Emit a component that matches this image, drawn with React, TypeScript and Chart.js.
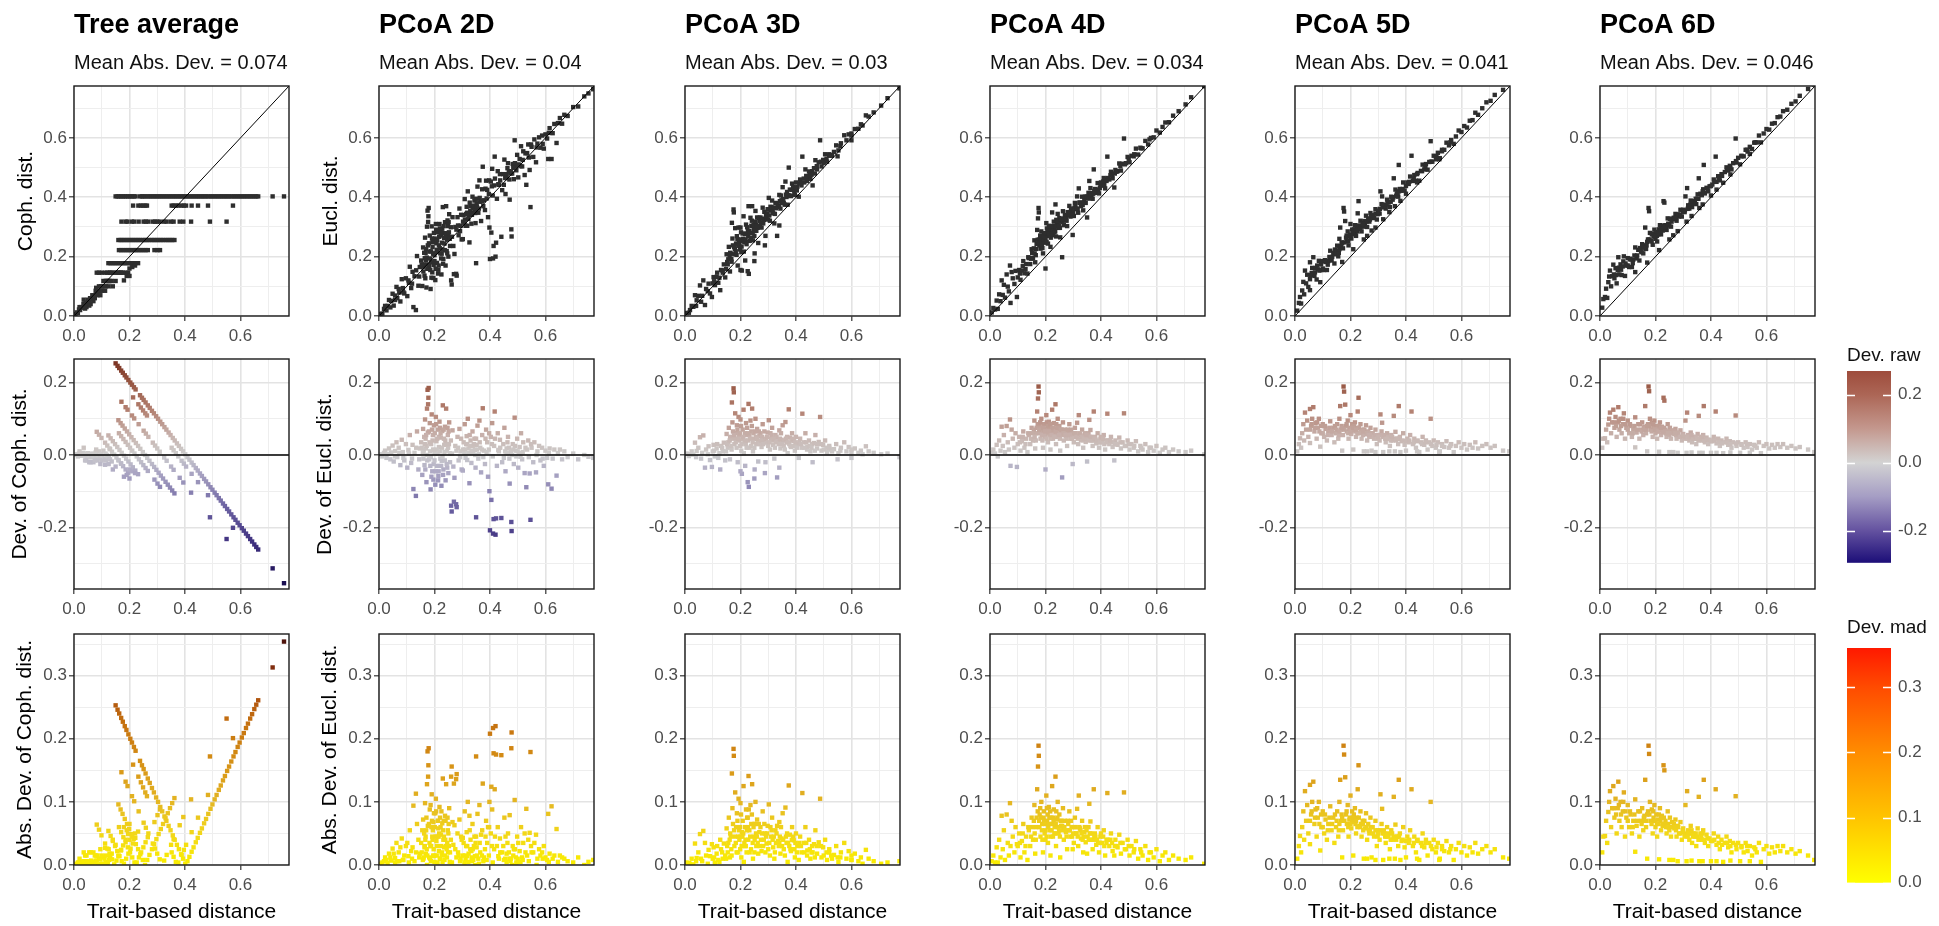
import React, { useEffect, useRef } from "react";
import { Chart, registerables } from "chart.js";
Chart.register(...registerables);

const FONT = '"Liberation Sans", Arial, Helvetica, sans-serif';

const panelTitles = ["Tree average", "PCoA 2D", "PCoA 3D", "PCoA 4D", "PCoA 5D", "PCoA 6D"];
const meanAbsDev = ["0.074", "0.04", "0.03", "0.034", "0.041", "0.046"];
const yTitlesCoph = ["Coph. dist.", "Dev. of Coph. dist.", "Abs. Dev. of Coph. dist."];
const yTitlesEucl = ["Eucl. dist.", "Dev. of Eucl. dist.", "Abs. Dev. of Eucl. dist."];
const xTitle = "Trait-based distance";

const xLimits = [0, 0.775];
const rowYLimits = [[0, 0.775], [-0.37, 0.265], [0, 0.366]];
const xMajorTicks = [0, 0.2, 0.4, 0.6];
const xMinorTicks = [0.1, 0.3, 0.5, 0.7];
const rowMajorTicks = [[0, 0.2, 0.4, 0.6], [-0.2, 0, 0.2], [0, 0.1, 0.2, 0.3]];
const rowMinorTicks = [[0.1, 0.3, 0.5, 0.7], [-0.3, -0.1, 0.1], [0.05, 0.15, 0.25, 0.35]];
const rawLegendLimits = [-0.295, 0.27];
const rawLegendTicks = [-0.2, 0, 0.2];
const madLegendLimits = [0, 0.36];
const madLegendTicks = [0, 0.1, 0.2, 0.3];

// ---- Tree average: cophenetic levels (y) and trait distances (x) on each level
const treeLevelY = [0.403, 0.372, 0.318, 0.256, 0.222, 0.178, 0.146];
const treeLevelX = [
  [0.150, 0.157, 0.163, 0.170, 0.176, 0.183, 0.189, 0.196, 0.203, 0.209, 0.216, 0.222, 0.238, 0.245, 0.251, 0.258, 0.266, 0.273, 0.281, 0.288, 0.296, 0.303, 0.311, 0.318, 0.326, 0.333, 0.341, 0.348, 0.356, 0.363, 0.371, 0.378, 0.386, 0.393, 0.401, 0.409, 0.416, 0.424, 0.431, 0.439, 0.446, 0.454, 0.461, 0.469, 0.476, 0.484, 0.492, 0.499, 0.507, 0.514, 0.522, 0.529, 0.537, 0.544, 0.552, 0.559, 0.567, 0.575, 0.582, 0.590, 0.597, 0.605, 0.612, 0.620, 0.627, 0.635, 0.642, 0.650, 0.657, 0.664, 0.716, 0.757],
  [0.213, 0.232, 0.241, 0.249, 0.257, 0.263, 0.352, 0.359, 0.367, 0.376, 0.388, 0.396, 0.404, 0.424, 0.447, 0.483, 0.573],
  [0.171, 0.186, 0.193, 0.209, 0.217, 0.233, 0.251, 0.259, 0.268, 0.284, 0.292, 0.300, 0.309, 0.325, 0.334, 0.350, 0.359, 0.381, 0.394, 0.422, 0.490, 0.550],
  [0.160, 0.168, 0.175, 0.183, 0.191, 0.199, 0.207, 0.215, 0.223, 0.231, 0.239, 0.248, 0.256, 0.264, 0.272, 0.281, 0.289, 0.297, 0.305, 0.313, 0.321, 0.330, 0.338, 0.346, 0.354, 0.362],
  [0.162, 0.170, 0.178, 0.186, 0.194, 0.202, 0.210, 0.218, 0.226, 0.234, 0.242, 0.250, 0.258, 0.266, 0.290, 0.301, 0.310],
  [0.124, 0.132, 0.140, 0.148, 0.156, 0.164, 0.172, 0.180, 0.188, 0.196, 0.204, 0.212, 0.221, 0.231],
  [0.082, 0.090, 0.099, 0.112, 0.120, 0.128, 0.137, 0.145, 0.153, 0.161, 0.169, 0.177, 0.186, 0.195],
];
// [trait distance, cophenetic distance] for the small-distance pairs
const treeLowPairs = [
  [0.005, 0.006], [0.01, 0.012], [0.014, 0.01], [0.018, 0.022], [0.022, 0.02], [0.026, 0.03], [0.03, 0.028], [0.034, 0.04], [0.038, 0.036], [0.042, 0.045], [0.046, 0.04], [0.05, 0.055], [0.054, 0.05], [0.058, 0.06], [0.062, 0.055], [0.066, 0.07], [0.07, 0.065], [0.074, 0.07], [0.078, 0.085], [0.082, 0.075], [0.086, 0.085], [0.09, 0.1], [0.094, 0.085], [0.098, 0.1], [0.102, 0.1], [0.106, 0.118], [0.11, 0.1], [0.114, 0.118], [0.118, 0.118], [0.122, 0.118], [0.126, 0.118], [0.13, 0.118], [0.136, 0.118], [0.06, 0.04], [0.045, 0.03], [0.07, 0.05], [0.08, 0.095], [0.02, 0.03], [0.035, 0.055], [0.1, 0.085], [0.112, 0.085], [0.115, 0.1], [0.125, 0.1], [0.14, 0.1], [0.085, 0.07], [0.13, 0.146], [0.04, 0.025], [0.055, 0.035], [0.075, 0.06], [0.095, 0.07], [0.15, 0.118], [0.16, 0.146], [0.17, 0.146], [0.19, 0.135], [0.2, 0.16], [0.21, 0.165], [0.18, 0.12], [0.2, 0.135], [0.22, 0.17],
];

// ---- PCoA panels: [trait distance, deviation of Euclidean distance]
const pcoa2D = [
  [0.005, 0.002], [0.012, -0.004], [0.018, 0.006], [0.022, 0.012], [0.027, -0.008], [0.031, 0.003], [0.036, 0.018], [0.041, -0.012], [0.044, 0.007], [0.049, 0.026], [0.053, -0.018], [0.058, 0.011], [0.063, 0.035], [0.066, -0.006], [0.071, 0.02], [0.077, -0.028], [0.082, 0.042], [0.086, 0.008], [0.091, -0.015], [0.097, 0.03], [0.102, -0.035], [0.106, 0.014], [0.111, 0.055], [0.116, -0.022], [0.121, 0.028], [0.124, -0.094], [0.133, -0.113], [0.128, 0.006], [0.137, 0.065], [0.142, -0.04], [0.147, 0.018],
  [0.152, 0.035], [0.156, -0.055], [0.159, 0.072], [0.161, 0.012], [0.164, -0.028], [0.166, 0.098], [0.168, 0.045], [0.171, -0.075], [0.173, 0.128], [0.175, 0.18], [0.177, 0.14], [0.178, 0.158], [0.179, 0.185], [0.176, 0.062], [0.181, -0.012], [0.183, 0.088], [0.186, -0.095], [0.188, 0.03], [0.19, 0.112], [0.192, -0.045], [0.194, 0.055], [0.196, -0.068], [0.198, 0.082], [0.2, 0.005], [0.203, -0.082], [0.205, 0.105], [0.207, 0.038], [0.209, -0.03], [0.212, 0.07], [0.214, -0.058], [0.216, 0.022], [0.218, 0.092], [0.221, -0.01], [0.223, 0.048], [0.225, -0.085], [0.228, 0.066], [0.23, 0.137], [0.232, -0.04], [0.235, 0.028], [0.238, 0.078], [0.24, -0.07], [0.242, 0.128], [0.245, 0.012], [0.248, 0.055], [0.25, -0.05], [0.253, 0.09], [0.256, -0.02], [0.259, 0.04], [0.26, -0.14], [0.262, -0.156],
  [0.265, 0.068], [0.268, -0.032], [0.27, -0.129], [0.272, -0.063], [0.275, 0.025], [0.278, -0.136], [0.28, -0.144], [0.283, 0.05], [0.287, -0.015], [0.29, 0.072], [0.294, 0.01], [0.298, -0.04], [0.302, -0.043], [0.305, 0.035], [0.309, 0.085], [0.312, -0.008], [0.316, 0.052], [0.32, 0.1], [0.323, 0.018], [0.326, -0.078], [0.33, 0.04], [0.333, -0.022], [0.337, 0.065], [0.34, 0.008], [0.344, 0.045], [0.348, -0.035], [0.35, -0.172], [0.352, 0.028], [0.355, 0.081], [0.358, -0.01], [0.362, 0.095], [0.365, 0.02], [0.368, -0.048], [0.372, 0.055], [0.374, 0.129], [0.378, 0.012], [0.382, -0.025], [0.386, 0.07], [0.39, 0.035], [0.393, -0.06], [0.396, 0.015], [0.398, -0.1], [0.4, -0.208],
  [0.403, 0.05], [0.405, -0.124], [0.408, 0.088], [0.411, -0.217], [0.413, -0.177], [0.415, 0.025], [0.417, 0.12], [0.42, -0.22], [0.422, -0.175], [0.425, -0.03], [0.428, 0.06], [0.432, 0.01], [0.436, 0.042], [0.441, -0.174], [0.444, -0.02], [0.448, 0.03], [0.452, 0.075], [0.456, -0.045], [0.46, 0.018], [0.465, 0.05], [0.47, -0.01], [0.471, -0.079], [0.477, -0.185], [0.478, -0.21], [0.482, 0.03], [0.486, -0.025], [0.489, 0.103], [0.493, 0.012], [0.498, 0.045], [0.502, -0.035], [0.507, 0.022], [0.512, 0.06], [0.516, -0.012], [0.52, 0.035], [0.525, -0.05], [0.531, -0.089], [0.534, 0.015], [0.538, 0.04], [0.543, -0.051], [0.546, -0.179], [0.55, 0.02],
  [0.556, -0.02], [0.56, 0.035], [0.566, -0.048], [0.571, 0.01], [0.577, 0.025], [0.582, -0.015], [0.588, 0.02], [0.594, -0.03], [0.6, 0.012], [0.606, -0.008], [0.61, -0.081], [0.615, 0.018], [0.622, -0.093], [0.626, -0.01], [0.632, 0.015], [0.64, -0.057], [0.645, 0.005], [0.652, 0.015], [0.66, -0.012], [0.668, 0.01], [0.68, -0.006], [0.7, 0.004], [0.718, -0.012], [0.74, 0.0], [0.755, -0.005], [0.772, -0.008],
  [0.058, -0.004], [0.073, 0.006], [0.088, -0.008], [0.108, 0.004], [0.119, -0.01], [0.134, 0.02], [0.145, -0.012], [0.158, 0.008], [0.169, 0.018], [0.187, -0.006], [0.197, 0.014], [0.211, 0.004], [0.226, -0.016], [0.236, 0.008], [0.249, 0.02], [0.263, 0.004], [0.279, 0.012], [0.292, -0.006], [0.308, 0.004], [0.318, -0.014], [0.335, 0.006], [0.346, 0.014], [0.36, 0.002], [0.376, -0.006], [0.388, 0.008], [0.41, -0.004], [0.43, 0.014], [0.45, -0.008], [0.474, 0.006], [0.495, -0.004], [0.518, 0.008], [0.54, -0.006],
  [0.163, 0.05], [0.167, -0.04], [0.172, 0.025], [0.174, -0.015], [0.18, 0.065], [0.184, 0.01], [0.189, -0.06], [0.193, 0.04], [0.197, -0.025], [0.201, 0.06], [0.204, -0.045], [0.208, 0.015], [0.213, -0.07], [0.217, 0.05], [0.22, 0.075], [0.224, -0.03], [0.227, 0.02], [0.231, -0.055], [0.234, 0.045], [0.237, -0.015], [0.241, 0.03], [0.246, -0.035], [0.251, 0.065], [0.255, 0.005], [0.285, 0.02], [0.296, 0.045], [0.303, 0.015], [0.314, 0.03], [0.327, 0.055], [0.338, 0.025], [0.35, 0.045], [0.363, 0.035], [0.371, 0.015], [0.384, 0.045], [0.397, 0.06], [0.407, 0.03], [0.418, 0.045], [0.437, 0.02], [0.455, 0.01], [0.463, 0.035], [0.48, 0.0], [0.49, 0.025], [0.505, 0.005], [0.528, 0.02], [0.548, 0.03], [0.568, 0.0], [0.59, -0.01], [0.612, 0.005],
  [0.154, 0.02], [0.16, -0.01], [0.165, 0.03], [0.17, 0.055], [0.173, 0.0], [0.182, 0.035], [0.185, -0.03], [0.191, 0.07], [0.195, 0.015], [0.2, -0.015], [0.206, 0.085], [0.21, 0.045], [0.215, -0.045], [0.219, 0.01], [0.222, 0.06], [0.229, -0.005], [0.233, 0.07], [0.239, 0.04], [0.244, -0.025], [0.247, 0.075], [0.252, 0.03], [0.31, 0.015], [0.318, 0.03], [0.322, 0.005], [0.329, 0.025], [0.334, 0.012], [0.342, 0.03], [0.347, 0.0], [0.353, 0.015], [0.46, 0.005], [0.468, 0.02], [0.475, 0.01], [0.484, 0.015], [0.5, 0.01], [0.51, -0.005],
];

const pcoa3D = [
  [0.006, 0.004], [0.014, -0.003], [0.018, 0.002], [0.024, 0.01], [0.03, 0.001], [0.036, 0.034], [0.04, -0.006], [0.042, 0.011], [0.048, 0.02], [0.054, 0.049], [0.058, -0.01], [0.062, 0.006], [0.066, 0.054], [0.072, -0.035], [0.076, 0.015], [0.082, 0.002], [0.085, 0.024], [0.09, -0.014], [0.097, -0.033], [0.1, 0.01], [0.103, 0.028], [0.108, -0.004], [0.114, 0.018], [0.12, -0.008], [0.127, -0.04], [0.13, 0.025], [0.136, 0.01], [0.14, 0.034], [0.145, -0.015], [0.15, 0.058], [0.154, 0.02], [0.158, 0.075], [0.162, -0.012], [0.165, 0.045], [0.169, 0.145], [0.171, 0.09], [0.175, 0.184], [0.176, 0.173], [0.178, 0.03], [0.181, 0.115], [0.184, 0.06], [0.187, 0.082], [0.19, -0.02], [0.193, 0.105], [0.196, 0.04], [0.2, 0.098], [0.203, 0.012], [0.205, -0.052], [0.208, 0.07], [0.211, 0.125], [0.214, 0.035], [0.217, -0.03], [0.22, 0.088], [0.223, 0.055], [0.226, -0.075], [0.229, 0.141], [0.23, -0.088], [0.233, 0.02], [0.236, 0.095], [0.239, 0.065], [0.242, 0.128], [0.245, 0.01], [0.248, 0.045], [0.251, -0.04], [0.254, 0.1], [0.257, 0.03], [0.26, 0.072], [0.264, -0.018], [0.268, 0.052], [0.272, 0.06], [0.276, 0.022], [0.28, 0.085], [0.284, 0.04], [0.288, -0.05], [0.29, -0.02], [0.294, 0.034], [0.298, 0.062], [0.302, 0.096], [0.306, 0.015], [0.31, 0.045], [0.314, 0.075], [0.318, 0.028], [0.322, -0.01], [0.326, 0.055], [0.332, -0.062], [0.335, 0.038], [0.34, 0.068], [0.344, 0.018], [0.348, 0.042], [0.352, 0.082], [0.356, 0.025], [0.362, 0.091], [0.366, 0.035], [0.37, 0.005], [0.374, 0.126], [0.378, 0.048], [0.382, 0.022], [0.386, 0.06], [0.392, 0.039], [0.396, 0.012], [0.4, 0.05], [0.405, 0.03], [0.41, -0.008], [0.415, 0.045], [0.42, 0.02], [0.423, 0.114], [0.428, 0.035], [0.434, 0.06], [0.44, 0.015], [0.441, 0.023], [0.447, 0.04], [0.452, 0.01], [0.458, 0.03], [0.465, 0.033], [0.47, 0.055], [0.476, 0.018], [0.482, 0.036], [0.487, 0.105], [0.492, 0.012], [0.498, 0.028], [0.505, 0.04], [0.512, 0.008], [0.52, 0.025], [0.527, 0.015], [0.537, 0.016], [0.545, 0.03], [0.553, 0.005], [0.562, 0.02], [0.574, 0.035], [0.582, 0.01], [0.59, 0.022], [0.6, 0.008], [0.612, 0.018], [0.625, 0.006], [0.634, 0.012], [0.64, 0.002], [0.652, 0.024], [0.662, 0.01], [0.68, 0.006], [0.707, 0.002], [0.73, 0.004], [0.773, -0.006],
  [0.2, -0.045], [0.25, -0.065], [0.34, -0.035], [0.46, -0.02], [0.55, -0.012], [0.6, -0.008],
  [0.105, 0.012], [0.116, 0.03], [0.124, 0.005], [0.134, 0.02], [0.148, 0.01], [0.156, 0.035], [0.163, 0.05], [0.168, 0.015], [0.173, 0.065], [0.18, 0.045], [0.186, 0.02], [0.189, 0.07], [0.195, 0.055], [0.199, 0.025], [0.202, 0.08], [0.207, 0.045], [0.212, 0.005], [0.216, 0.06], [0.219, 0.03], [0.224, 0.075], [0.228, 0.04], [0.232, 0.055], [0.238, 0.025], [0.241, 0.08], [0.247, 0.06], [0.25, 0.02], [0.256, 0.05], [0.262, 0.035], [0.266, 0.065], [0.27, 0.03], [0.278, 0.05], [0.286, 0.065], [0.292, 0.045], [0.3, 0.025], [0.308, 0.06], [0.316, 0.04], [0.324, 0.02], [0.33, 0.05], [0.338, 0.03], [0.346, 0.06], [0.354, 0.04], [0.36, 0.015], [0.368, 0.05], [0.376, 0.03], [0.385, 0.04], [0.394, 0.025], [0.403, 0.02], [0.412, 0.035], [0.43, 0.02], [0.45, 0.025], [0.468, 0.012], [0.49, 0.03], [0.51, 0.02], [0.53, 0.01], [0.56, 0.012], [0.6, 0.015],
  [0.152, 0.03], [0.161, 0.04], [0.167, 0.025], [0.177, 0.055], [0.183, 0.035], [0.192, 0.045], [0.198, 0.06], [0.204, 0.03], [0.21, 0.05], [0.218, 0.04], [0.222, 0.02], [0.227, 0.06], [0.235, 0.045], [0.244, 0.035], [0.253, 0.065], [0.259, 0.045], [0.274, 0.04], [0.282, 0.03], [0.296, 0.05], [0.304, 0.035], [0.312, 0.055], [0.32, 0.045], [0.328, 0.035], [0.342, 0.045], [0.35, 0.03], [0.364, 0.045], [0.372, 0.035], [0.38, 0.025], [0.39, 0.045], [0.398, 0.035], [0.418, 0.03], [0.437, 0.035], [0.456, 0.02], [0.475, 0.03], [0.5, 0.015], [0.52, 0.02],
];

const pcoa4D = [
  [0.006, 0.006], [0.012, 0.015], [0.018, 0.004], [0.024, 0.028], [0.028, -0.004], [0.033, 0.04], [0.038, 0.012], [0.042, 0.078], [0.046, 0.025], [0.05, 0.055], [0.054, 0.008], [0.06, 0.08], [0.064, 0.035], [0.068, 0.015], [0.072, 0.098], [0.074, -0.03], [0.078, 0.07], [0.082, 0.045], [0.088, 0.02], [0.092, 0.06], [0.097, -0.033], [0.1, 0.03], [0.105, 0.05], [0.11, 0.012], [0.115, 0.038], [0.12, 0.065], [0.124, 0.02], [0.13, 0.045], [0.135, 0.008], [0.14, 0.055], [0.145, 0.03], [0.15, 0.075], [0.155, 0.04], [0.16, 0.095], [0.163, 0.018], [0.166, 0.06], [0.17, 0.12], [0.173, 0.156], [0.175, 0.189], [0.176, 0.173], [0.179, 0.08], [0.182, 0.045], [0.185, 0.1], [0.188, 0.065], [0.191, 0.02], [0.194, 0.085], [0.197, 0.05], [0.2, -0.04], [0.203, 0.11], [0.206, 0.07], [0.209, 0.035], [0.212, 0.092], [0.215, 0.055], [0.218, 0.015], [0.221, 0.075], [0.224, 0.125], [0.227, 0.045], [0.23, 0.088], [0.233, 0.06], [0.236, 0.14], [0.238, 0.03], [0.241, 0.072], [0.244, 0.1], [0.247, 0.05], [0.25, 0.08], [0.253, 0.012], [0.256, 0.062], [0.26, -0.062], [0.263, 0.09], [0.266, 0.04], [0.27, 0.07], [0.274, 0.052], [0.278, 0.025], [0.282, 0.065], [0.286, 0.085], [0.29, 0.045], [0.294, 0.06], [0.298, -0.025], [0.302, 0.035], [0.306, 0.075], [0.31, 0.05], [0.314, 0.089], [0.318, 0.03], [0.32, 0.11], [0.324, 0.058], [0.328, 0.042], [0.332, 0.07], [0.336, 0.02], [0.34, 0.052], [0.345, 0.036], [0.35, -0.018], [0.355, 0.06], [0.358, 0.097], [0.362, 0.069], [0.366, 0.04], [0.37, 0.025], [0.374, 0.12], [0.378, 0.05], [0.383, 0.032], [0.388, 0.06], [0.393, 0.02], [0.398, 0.045], [0.404, 0.035], [0.41, 0.055], [0.415, 0.015], [0.42, 0.04], [0.423, 0.114], [0.43, 0.03], [0.436, 0.05], [0.442, 0.022], [0.448, -0.015], [0.452, 0.04], [0.46, 0.028], [0.466, 0.048], [0.472, 0.018], [0.478, 0.035], [0.483, 0.115], [0.49, 0.025], [0.496, 0.04], [0.503, 0.015], [0.51, 0.03], [0.518, 0.02], [0.526, 0.038], [0.534, 0.01], [0.542, 0.025], [0.55, 0.015], [0.56, 0.03], [0.57, 0.008], [0.58, 0.02], [0.59, 0.012], [0.6, 0.025], [0.612, 0.006], [0.622, 0.015], [0.632, 0.02], [0.645, 0.008], [0.66, 0.015], [0.68, 0.01], [0.705, 0.008], [0.725, 0.012], [0.772, 0.002],
  [0.108, 0.035], [0.118, 0.05], [0.128, 0.03], [0.138, 0.06], [0.148, 0.045], [0.158, 0.07], [0.165, 0.04], [0.172, 0.085], [0.178, 0.06], [0.183, 0.075], [0.189, 0.04], [0.195, 0.07], [0.2, 0.055], [0.205, 0.09], [0.21, 0.06], [0.214, 0.075], [0.219, 0.045], [0.225, 0.065], [0.229, 0.07], [0.235, 0.05], [0.239, 0.085], [0.245, 0.06], [0.252, 0.045], [0.258, 0.07], [0.262, 0.055], [0.268, 0.06], [0.276, 0.045], [0.284, 0.055], [0.292, 0.07], [0.3, 0.05], [0.308, 0.06], [0.316, 0.045], [0.326, 0.055], [0.334, 0.04], [0.342, 0.06], [0.352, 0.045], [0.36, 0.05], [0.372, 0.04], [0.38, 0.045], [0.39, 0.035], [0.4, 0.05], [0.412, 0.03], [0.425, 0.04], [0.44, 0.035], [0.456, 0.03], [0.47, 0.035], [0.486, 0.025], [0.5, 0.03], [0.52, 0.025], [0.545, 0.02], [0.575, 0.02],
  [0.152, 0.06], [0.161, 0.05], [0.168, 0.075], [0.177, 0.07], [0.181, 0.09], [0.187, 0.055], [0.193, 0.075], [0.199, 0.065], [0.204, 0.045], [0.208, 0.08], [0.213, 0.065], [0.217, 0.085], [0.222, 0.055], [0.228, 0.075], [0.232, 0.05], [0.237, 0.065], [0.243, 0.075], [0.249, 0.055], [0.255, 0.07], [0.265, 0.06], [0.272, 0.055], [0.28, 0.07], [0.288, 0.055], [0.296, 0.045], [0.305, 0.06], [0.312, 0.05], [0.322, 0.06], [0.33, 0.05], [0.338, 0.045], [0.348, 0.055], [0.356, 0.04], [0.364, 0.05], [0.376, 0.045], [0.386, 0.04], [0.396, 0.035], [0.408, 0.045], [0.42, 0.035], [0.434, 0.04], [0.45, 0.03],
];

const pcoa5D = [
  [0.008, 0.01], [0.014, 0.03], [0.018, 0.046], [0.022, 0.02], [0.026, 0.06], [0.03, 0.085], [0.033, 0.04], [0.036, 0.117], [0.04, 0.07], [0.044, 0.095], [0.048, 0.05], [0.054, 0.127], [0.054, 0.033], [0.058, 0.08], [0.062, 0.1], [0.066, 0.132], [0.07, 0.065], [0.074, 0.088], [0.078, 0.045], [0.082, 0.075], [0.086, 0.1], [0.091, 0.023], [0.095, 0.06], [0.1, 0.085], [0.105, 0.05], [0.11, 0.072], [0.115, 0.04], [0.12, 0.065], [0.127, 0.093], [0.132, 0.055], [0.138, 0.075], [0.142, 0.035], [0.148, 0.06], [0.152, 0.085], [0.156, 0.045], [0.16, 0.1], [0.163, 0.135], [0.166, 0.07], [0.17, 0.012], [0.173, 0.055], [0.175, 0.189], [0.177, 0.175], [0.181, 0.139], [0.184, 0.08], [0.187, 0.065], [0.19, 0.095], [0.193, 0.045], [0.196, 0.072], [0.2, 0.11], [0.203, 0.058], [0.206, 0.085], [0.21, 0.015], [0.213, 0.068], [0.216, 0.09], [0.22, 0.05], [0.223, 0.075], [0.226, 0.12], [0.229, 0.158], [0.232, 0.062], [0.236, 0.085], [0.24, 0.045], [0.244, 0.07], [0.248, 0.01], [0.252, 0.058], [0.256, 0.082], [0.26, 0.04], [0.264, 0.065], [0.268, 0.05], [0.272, 0.075], [0.276, 0.012], [0.28, 0.06], [0.285, 0.045], [0.29, 0.07], [0.295, 0.03], [0.3, 0.055], [0.305, 0.04], [0.308, 0.112], [0.312, 0.065], [0.314, 0.089], [0.318, 0.008], [0.322, 0.05], [0.327, 0.035], [0.332, 0.06], [0.337, 0.045], [0.342, 0.025], [0.347, 0.055], [0.352, 0.04], [0.356, 0.108], [0.36, 0.01], [0.362, 0.064], [0.367, 0.045], [0.372, 0.03], [0.374, 0.135], [0.378, 0.05], [0.384, 0.038], [0.39, 0.06], [0.395, 0.028], [0.4, 0.012], [0.405, 0.045], [0.41, 0.035], [0.415, 0.055], [0.42, 0.12], [0.425, 0.03], [0.43, 0.045], [0.436, 0.02], [0.442, 0.04], [0.448, 0.008], [0.454, 0.035], [0.46, 0.05], [0.466, 0.028], [0.472, 0.04], [0.478, 0.015], [0.484, 0.035], [0.489, 0.1], [0.495, 0.025], [0.5, 0.04], [0.508, 0.02], [0.515, 0.035], [0.522, 0.01], [0.53, 0.03], [0.538, 0.022], [0.546, 0.038], [0.555, 0.02], [0.563, 0.03], [0.572, 0.008], [0.58, 0.025], [0.59, 0.035], [0.6, 0.02], [0.61, 0.03], [0.62, 0.015], [0.63, 0.028], [0.64, 0.02], [0.65, 0.035], [0.66, 0.018], [0.675, 0.025], [0.69, 0.03], [0.705, 0.02], [0.72, 0.025], [0.75, 0.012], [0.772, 0.01],
  [0.1, 0.06], [0.108, 0.08], [0.118, 0.055], [0.124, 0.075], [0.134, 0.065], [0.144, 0.08], [0.15, 0.07], [0.158, 0.055], [0.168, 0.08], [0.178, 0.07], [0.186, 0.085], [0.192, 0.06], [0.198, 0.075], [0.205, 0.07], [0.212, 0.08], [0.218, 0.065], [0.225, 0.06], [0.23, 0.075], [0.238, 0.065], [0.246, 0.055], [0.25, 0.07], [0.258, 0.06], [0.266, 0.055], [0.274, 0.06], [0.282, 0.05], [0.29, 0.055], [0.298, 0.045], [0.306, 0.055], [0.316, 0.05], [0.325, 0.045], [0.335, 0.05], [0.345, 0.04], [0.355, 0.045], [0.365, 0.04], [0.375, 0.045], [0.388, 0.04], [0.4, 0.038], [0.412, 0.04], [0.428, 0.035], [0.44, 0.038], [0.458, 0.03], [0.47, 0.035], [0.49, 0.03], [0.51, 0.028], [0.53, 0.025], [0.56, 0.025], [0.26, 0.01], [0.29, 0.008], [0.34, 0.01], [0.38, 0.008], [0.44, 0.01], [0.52, 0.008],
  [0.054, 0.07], [0.06, 0.085], [0.072, 0.075], [0.08, 0.09], [0.088, 0.065], [0.094, 0.08], [0.16, 0.065], [0.17, 0.075], [0.2, 0.065], [0.21, 0.075], [0.22, 0.07], [0.235, 0.06], [0.245, 0.065], [0.27, 0.055], [0.3, 0.05], [0.32, 0.055], [0.33, 0.045], [0.35, 0.05], [0.37, 0.045],
];

const pcoa6D = [
  [0.008, 0.02], [0.012, 0.045], [0.018, 0.046], [0.022, 0.07], [0.026, 0.035], [0.03, 0.084], [0.033, 0.1], [0.036, 0.117], [0.04, 0.06], [0.044, 0.09], [0.048, 0.125], [0.052, 0.075], [0.056, 0.105], [0.06, 0.05], [0.064, 0.09], [0.066, 0.132], [0.07, 0.07], [0.074, 0.1], [0.078, 0.06], [0.082, 0.085], [0.086, 0.115], [0.09, 0.045], [0.095, 0.075], [0.1, 0.095], [0.105, 0.06], [0.11, 0.08], [0.115, 0.05], [0.12, 0.07], [0.127, 0.104], [0.127, 0.021], [0.132, 0.062], [0.138, 0.085], [0.142, 0.045], [0.148, 0.07], [0.152, 0.09], [0.156, 0.055], [0.16, 0.078], [0.163, 0.135], [0.166, 0.06], [0.17, 0.01], [0.173, 0.085], [0.175, 0.189], [0.177, 0.176], [0.18, 0.1], [0.184, 0.07], [0.187, 0.088], [0.19, 0.05], [0.193, 0.075], [0.196, 0.095], [0.2, 0.06], [0.203, 0.08], [0.206, 0.045], [0.21, 0.072], [0.213, 0.009], [0.216, 0.09], [0.22, 0.055], [0.223, 0.078], [0.226, 0.062], [0.229, 0.158], [0.232, 0.15], [0.236, 0.07], [0.24, 0.05], [0.244, 0.085], [0.248, 0.06], [0.252, 0.075], [0.256, 0.045], [0.26, 0.068], [0.264, 0.008], [0.268, 0.058], [0.272, 0.072], [0.276, 0.045], [0.28, 0.062], [0.285, 0.05], [0.29, 0.068], [0.295, 0.04], [0.3, 0.058], [0.305, 0.045], [0.308, 0.095], [0.312, 0.006], [0.314, 0.117], [0.318, 0.055], [0.322, 0.04], [0.327, 0.062], [0.332, 0.035], [0.337, 0.05], [0.342, 0.045], [0.347, 0.03], [0.352, 0.058], [0.356, 0.108], [0.358, 0.006], [0.362, 0.05], [0.367, 0.04], [0.372, 0.055], [0.374, 0.135], [0.378, 0.035], [0.384, 0.048], [0.39, 0.03], [0.395, 0.042], [0.4, 0.006], [0.405, 0.038], [0.41, 0.05], [0.417, 0.12], [0.42, 0.032], [0.426, 0.045], [0.432, 0.025], [0.438, 0.04], [0.444, 0.005], [0.45, 0.035], [0.456, 0.045], [0.462, 0.028], [0.468, 0.038], [0.474, 0.02], [0.48, 0.035], [0.489, 0.109], [0.492, 0.025], [0.498, 0.035], [0.505, 0.006], [0.51, 0.03], [0.518, 0.02], [0.525, 0.035], [0.532, 0.022], [0.54, 0.03], [0.548, 0.015], [0.556, 0.028], [0.565, 0.02], [0.573, 0.035], [0.58, 0.005], [0.59, 0.025], [0.6, 0.03], [0.61, 0.018], [0.62, 0.028], [0.63, 0.02], [0.64, 0.03], [0.65, 0.022], [0.66, 0.03], [0.675, 0.02], [0.69, 0.025], [0.705, 0.018], [0.72, 0.022], [0.75, 0.015], [0.772, 0.008],
  [0.1, 0.07], [0.108, 0.085], [0.118, 0.06], [0.124, 0.08], [0.134, 0.07], [0.144, 0.085], [0.15, 0.065], [0.158, 0.075], [0.168, 0.07], [0.178, 0.08], [0.186, 0.065], [0.192, 0.085], [0.198, 0.07], [0.205, 0.065], [0.212, 0.08], [0.218, 0.07], [0.225, 0.065], [0.23, 0.075], [0.238, 0.06], [0.246, 0.065], [0.25, 0.055], [0.258, 0.06], [0.266, 0.065], [0.274, 0.055], [0.282, 0.06], [0.29, 0.05], [0.298, 0.055], [0.306, 0.05], [0.316, 0.045], [0.325, 0.05], [0.335, 0.045], [0.345, 0.05], [0.355, 0.04], [0.365, 0.045], [0.375, 0.04], [0.388, 0.042], [0.4, 0.038], [0.412, 0.04], [0.428, 0.035], [0.44, 0.032], [0.458, 0.035], [0.47, 0.03], [0.49, 0.032], [0.51, 0.028], [0.53, 0.03], [0.56, 0.025], [0.25, 0.008], [0.28, 0.006], [0.33, 0.007], [0.37, 0.006], [0.42, 0.006], [0.47, 0.007], [0.54, 0.006],
  [0.05, 0.09], [0.058, 0.08], [0.068, 0.095], [0.076, 0.08], [0.084, 0.1], [0.092, 0.085], [0.16, 0.07], [0.17, 0.08], [0.2, 0.07], [0.21, 0.065], [0.22, 0.075], [0.235, 0.065], [0.245, 0.06], [0.27, 0.06], [0.3, 0.052], [0.32, 0.05], [0.33, 0.055], [0.35, 0.045], [0.37, 0.05],
];

// ---- colour scales
const rawPointStops = [[-0.36, [24, 12, 78]], [-0.25, [60, 45, 125]], [-0.15, [105, 95, 160]], [-0.05, [170, 165, 195]], [0, [205, 205, 205]], [0.05, [200, 180, 175]], [0.12, [180, 130, 115]], [0.2, [150, 85, 65]], [0.26, [120, 48, 32]]];
const rawLegendStops = [[-0.295, [28, 14, 120]], [-0.2, [100, 82, 160]], [-0.1, [165, 157, 196]], [0, [211, 211, 211]], [0.1, [196, 152, 142]], [0.2, [172, 102, 86]], [0.27, [158, 76, 60]]];
const madPointStops = [[0, [250, 238, 0]], [0.05, [242, 215, 25]], [0.1, [228, 182, 35]], [0.17, [212, 140, 20]], [0.23, [195, 110, 15]], [0.28, [165, 70, 15]], [0.32, [120, 40, 15]], [0.36, [70, 15, 10]]];
const madLegendStops = [[0, [255, 255, 0]], [0.1, [255, 196, 0]], [0.2, [255, 140, 0]], [0.3, [255, 75, 0]], [0.36, [255, 25, 0]]];

function stopColor(stops, v) {
  if (v <= stops[0][0]) return stops[0][1];
  for (let i = 1; i < stops.length; i++) {
    if (v <= stops[i][0]) {
      const a = stops[i - 1], b = stops[i];
      const t = (v - a[0]) / (b[0] - a[0]);
      return a[1].map((c, k) => Math.round(c + (b[1][k] - c) * t));
    }
  }
  return stops[stops.length - 1][1];
}
const rgb = (c) => `rgb(${c[0]},${c[1]},${c[2]})`;
const r3 = (v) => Math.round(v * 1000) / 1000;

function panelPairs(col) {
  if (col === 0) {
    const out = [];
    treeLevelY.forEach((y, i) => treeLevelX[i].forEach((x) => out.push([x, r3(y - x)])));
    treeLowPairs.forEach(([x, y]) => out.push([x, r3(y - x)]));
    return out;
  }
  return [pcoa2D, pcoa3D, pcoa4D, pcoa5D, pcoa6D][col - 1];
}

// ---- layout (pixels)
const COL_STEP = 305.26;
const PLOT_LEFT = 74;
const PLOT_W = 215;
const CANVAS_W = 300;
const AXIS_TITLE_SIZE = 21;
const rowTop = [0, 340, 620];
const rowHeight = [350, 290, 306];
const rowPadTop = [0, 19, 14];
const rowXAxisH = [34, 41, 61];
const rowYTitlePad = [13.4, 7.4, 12.4];

const framePlugin = {
  id: "frame",
  afterDraw(chart) {
    const { ctx, chartArea: a } = chart;
    ctx.save();
    ctx.strokeStyle = "#1a1a1a";
    ctx.lineWidth = 1.4;
    ctx.strokeRect(a.left, a.top, a.right - a.left, a.bottom - a.top);
    ctx.restore();
  },
};

function makeAxis(min, max, major, minor, extra) {
  const majorSet = new Set(major.map(r3));
  const all = [...major, ...minor].sort((a, b) => a - b);
  const isMajor = (ctx) => !!(ctx && ctx.tick && majorSet.has(r3(ctx.tick.value)));
  return {
    type: "linear",
    min,
    max,
    afterBuildTicks: (s) => {
      s.ticks = all.map((v) => ({ value: v }));
    },
    ticks: {
      autoSkip: false,
      maxRotation: 0,
      color: "#4d4d4d",
      font: { family: FONT, size: 17 },
      callback: (v) => (majorSet.has(r3(v)) ? Number(v).toFixed(1) : ""),
    },
    grid: {
      color: (ctx) => (isMajor(ctx) ? "#e3e3e3" : "#eeeeee"),
      lineWidth: (ctx) => (isMajor(ctx) ? 1.6 : 1),
      tickColor: (ctx) => (isMajor(ctx) ? "#333333" : "rgba(0,0,0,0)"),
      tickLength: 5,
      tickWidth: 1.2,
      drawTicks: true,
    },
    border: { display: false },
    ...extra,
  };
}

function panelConfig(row, col) {
  const pairs = panelPairs(col);
  const pts = pairs.map(([x, d]) => ({ x, y: row === 0 ? r3(x + d) : row === 1 ? d : Math.abs(d) }));
  const colors = pairs.map(([, d]) =>
    row === 0 ? "#2e2e2e" : row === 1 ? rgb(stopColor(rawPointStops, d)) : rgb(stopColor(madPointStops, Math.abs(d)))
  );
  const datasets = [];
  if (row === 0) {
    datasets.push({ type: "line", data: [{ x: xLimits[0], y: xLimits[0] }, { x: xLimits[1], y: xLimits[1] }], borderColor: "#000", borderWidth: 1, pointRadius: 0, fill: false });
  } else if (row === 1) {
    datasets.push({ type: "line", data: [{ x: xLimits[0], y: 0 }, { x: xLimits[1], y: 0 }], borderColor: "#000", borderWidth: 1.6, pointRadius: 0, fill: false });
  }
  datasets.push({
    type: "scatter",
    data: pts,
    pointStyle: "rect",
    pointRadius: 3.1,
    pointBorderWidth: 0,
    pointBackgroundColor: colors,
    pointBorderColor: colors,
  });
  const yTitle = col === 0 ? yTitlesCoph[row] : yTitlesEucl[row];
  return {
    type: "scatter",
    data: { datasets },
    options: {
      animation: false,
      responsive: false,
      devicePixelRatio: 1,
      events: [],
      layout: { padding: { left: 0, right: CANVAS_W - PLOT_LEFT - PLOT_W, top: rowPadTop[row], bottom: 0 } },
      plugins: {
        legend: { display: false },
        tooltip: { enabled: false },
        title: {
          display: row === 0,
          text: panelTitles[col],
          align: "start",
          fullSize: false,
          color: "#000",
          font: { family: FONT, size: 27, weight: "bold" },
          padding: { top: 9, bottom: 4 },
        },
        subtitle: {
          display: row === 0,
          text: "Mean Abs. Dev. = " + meanAbsDev[col],
          align: "start",
          fullSize: false,
          color: "#111",
          font: { family: FONT, size: 20 },
          padding: { top: 5.6, bottom: 11 },
        },
      },
      scales: {
        x: makeAxis(xLimits[0], xLimits[1], xMajorTicks, xMinorTicks, {
          position: "bottom",
          afterFit: (s) => {
            s.height = rowXAxisH[row];
          },
          title: { display: row === 2, text: xTitle, color: "#000", font: { family: FONT, size: AXIS_TITLE_SIZE }, padding: { top: 0, bottom: 1.4 } },
        }),
        y: makeAxis(rowYLimits[row][0], rowYLimits[row][1], rowMajorTicks[row], rowMinorTicks[row], {
          position: "left",
          afterFit: (s) => {
            s.width = PLOT_LEFT;
          },
          title: { display: col <= 1, text: yTitle, color: "#000", font: { family: FONT, size: AXIS_TITLE_SIZE }, padding: { top: rowYTitlePad[row], bottom: 0 } },
        }),
      },
    },
    plugins: [framePlugin],
  };
}

function fixTickPadding(cfg) {
  cfg.options.scales.x.ticks.padding = 5;
  cfg.options.scales.y.ticks.padding = 2;
  return cfg;
}

function colorbarPlugin(stops, ticks) {
  return {
    id: "colorbar",
    afterDraw(chart) {
      const { ctx, chartArea: a } = chart;
      const y = chart.scales.y;
      const g = ctx.createLinearGradient(0, a.bottom, 0, a.top);
      stops.forEach(([v, c]) => {
        const t = Math.min(1, Math.max(0, (v - y.min) / (y.max - y.min)));
        g.addColorStop(t, rgb(c));
      });
      ctx.save();
      ctx.fillStyle = g;
      ctx.fillRect(a.left, a.top, a.right - a.left, a.bottom - a.top);
      ctx.strokeStyle = "#ffffff";
      ctx.lineWidth = 1.5;
      ticks.forEach((v) => {
        const py = Math.round(y.getPixelForValue(v)) + 0.5;
        ctx.beginPath();
        ctx.moveTo(a.left, py);
        ctx.lineTo(a.left + 8, py);
        ctx.moveTo(a.right - 8, py);
        ctx.lineTo(a.right, py);
        ctx.stroke();
      });
      ctx.restore();
    },
  };
}

function legendConfig(title, limits, ticks, stops, titlePad, bottomPad) {
  return {
    type: "scatter",
    data: { datasets: [] },
    options: {
      animation: false,
      responsive: false,
      devicePixelRatio: 1,
      events: [],
      layout: { padding: { left: 17, right: 0, top: 0, bottom: bottomPad } },
      plugins: {
        legend: { display: false },
        tooltip: { enabled: false },
        title: {
          display: true,
          text: title,
          align: "start",
          fullSize: true,
          color: "#111",
          font: { family: FONT, size: 19, weight: "normal" },
          padding: titlePad,
        },
      },
      scales: {
        x: { display: false, min: 0, max: 1 },
        y: {
          type: "linear",
          position: "right",
          min: limits[0],
          max: limits[1],
          afterFit: (s) => {
            s.width = 48;
          },
          afterBuildTicks: (s) => {
            s.ticks = ticks.map((v) => ({ value: v }));
          },
          ticks: { padding: 7, color: "#4d4d4d", font: { family: FONT, size: 17 }, callback: (v) => Number(v).toFixed(1), autoSkip: false },
          grid: { display: false, drawTicks: false },
          border: { display: false },
        },
      },
    },
    plugins: [colorbarPlugin(stops, ticks)],
  };
}

function ChartCanvas({ left, top, width, height, make }) {
  const ref = useRef(null);
  useEffect(() => {
    const chart = new Chart(ref.current, make());
    return () => chart.destroy();
  }, []);
  return (
    <canvas
      ref={ref}
      width={width}
      height={height}
      style={{ position: "absolute", left, top, width, height, display: "block" }}
    />
  );
}

export default function App() {
  const cells = [];
  for (let r = 0; r < 3; r++) {
    for (let c = 0; c < 6; c++) {
      cells.push(
        <ChartCanvas
          key={`p${r}-${c}`}
          left={Math.round(COL_STEP * c)}
          top={rowTop[r]}
          width={CANVAS_W}
          height={rowHeight[r]}
          make={() => fixTickPadding(panelConfig(r, c))}
        />
      );
    }
  }
  return (
    <div style={{ position: "absolute", left: 0, top: 0, width: 1939, height: 926, background: "#ffffff", overflow: "hidden" }}>
      {cells}
      <ChartCanvas
        key="leg-raw"
        left={1830}
        top={330}
        width={109}
        height={250}
        make={() => legendConfig("Dev. raw", rawLegendLimits, rawLegendTicks, rawLegendStops, { top: 14.6, bottom: 3.6 }, 14)}
      />
      <ChartCanvas
        key="leg-mad"
        left={1830}
        top={600}
        width={109}
        height={300}
        make={() => legendConfig("Dev. mad", madLegendLimits, madLegendTicks, madLegendStops, { top: 16.6, bottom: 8.6 }, 15)}
      />
    </div>
  );
}
